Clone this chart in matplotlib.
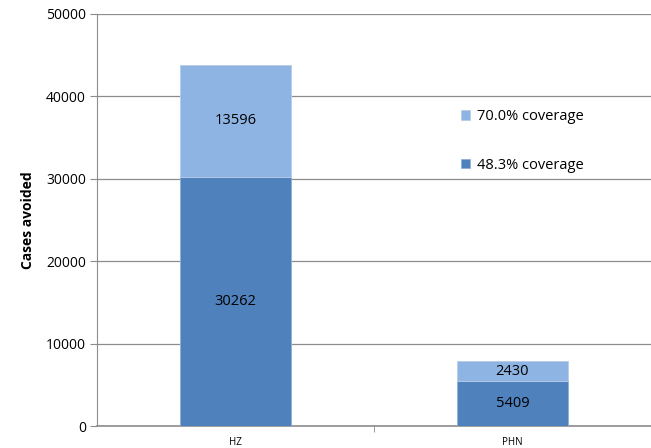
import numpy as np
import matplotlib.pyplot as plt

plt.rcParams['font.family'] = ['Open Sans', 'DejaVu Sans']

categories = ['HZ', 'PHN']
cov_483 = [30262, 5409]
cov_700 = [13596, 2430]
yticks = [0, 10000, 20000, 30000, 40000, 50000]

dark = '#4F81BD'
light = '#8DB4E2'

fig = plt.figure(figsize=(6.51, 4.48), dpi=100)
ax = fig.add_axes([97 / 651, 1 - 426 / 448, 1 - 97 / 651, 412 / 448])

x = np.arange(len(categories))
b1 = ax.bar(x, cov_483, width=0.4, color=dark, edgecolor='#8FB0DA', linewidth=0.6,
            label='48.3% coverage', zorder=3)
b2 = ax.bar(x, cov_700, width=0.4, bottom=cov_483, color=light, edgecolor='#B8CCE6',
            linewidth=0.6, label='70.0% coverage', zorder=3)

for i in range(len(categories)):
    ax.text(x[i], cov_483[i] / 2, str(cov_483[i]), ha='center', va='center', fontsize=10.5)
    ax.text(x[i], cov_483[i] + cov_700[i] / 2, str(cov_700[i]), ha='center', va='center',
            fontsize=10.5)

ax.set_xlim(-0.5, 1.5)
ax.set_ylim(0, 50000)
ax.set_yticks(yticks)
ax.set_yticklabels([str(v) for v in yticks], fontsize=10)
ax.grid(axis='y', color='#8C8C8C', linewidth=0.9, zorder=0)

ax.set_xticks(x)
ax.set_xticklabels(categories, fontsize=7)
ax.tick_params(axis='x', length=0, pad=8)
ax.set_xticks([0.5], minor=True)
ax.tick_params(axis='x', which='minor', length=4, color='#8C8C8C', direction='out')
ax.tick_params(axis='y', length=5, color='#8C8C8C', direction='out', pad=3)

for s in ['top', 'right']:
    ax.spines[s].set_visible(False)
ax.spines['left'].set_color('#8C8C8C')
ax.spines['bottom'].set_color('#8C8C8C')
ax.spines['bottom'].set_linewidth(1.2)

ax.set_ylabel('Cases avoided', fontsize=10, fontweight='bold', labelpad=8)

ax.legend(handles=[b2, b1], loc='upper left', bbox_to_anchor=(448 / 651, 1 - 96 / 448),
          bbox_transform=fig.transFigure, frameon=False, fontsize=10.5, handlelength=0.6,
          handleheight=0.6, handletextpad=0.5, labelspacing=2.3)

fig.savefig('out.png', dpi=100)
